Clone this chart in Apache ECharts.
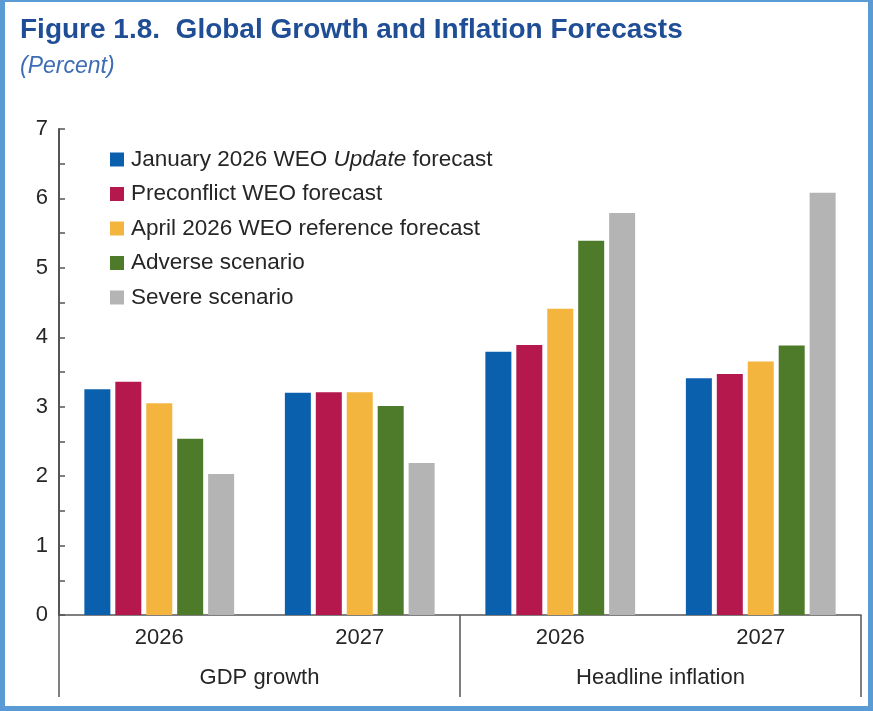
<!DOCTYPE html>
<html>
<head>
<meta charset="utf-8">
<script src="https://cdn.jsdelivr.net/npm/echarts@6/dist/echarts.min.js"></script>
<style>
  html, body { margin: 0; padding: 0; background: #ffffff; }
  #chart { width: 873px; height: 711px; }
</style>
</head>
<body>
<div id="chart"></div>
<script>
// Years shown under each bar cluster, and the two panel groups beneath them
const years = ['2026', '2027', '2026', '2027'];
const groups = ['GDP growth', 'Headline inflation'];

// Forecast series (percent), one value per cluster: GDP 2026, GDP 2027, inflation 2026, inflation 2027
const seriesNames = [
  'January 2026 WEO Update forecast',
  'Preconflict WEO forecast',
  'April 2026 WEO reference forecast',
  'Adverse scenario',
  'Severe scenario'
];
const januaryUpdate = [3.25, 3.20, 3.79, 3.41];
const preconflict   = [3.36, 3.21, 3.89, 3.47];
const aprilRef      = [3.05, 3.21, 4.41, 3.65];
const adverse       = [2.54, 3.01, 5.39, 3.88];
const severe        = [2.03, 2.19, 5.79, 6.08];

const seriesValues = [januaryUpdate, preconflict, aprilRef, adverse, severe];
const seriesColors = ['#0b60ae', '#b5184c', '#f4b53f', '#4e7b2a', '#b4b4b4'];

const yTicks = [0, 1, 2, 3, 4, 5, 6, 7];

const FONT = '"Liberation Sans", Arial, sans-serif';
const TEXT = '#262626';
const AXIS = '#555555';
const FRAME = '#5b9bd5';

const chart = echarts.init(document.getElementById('chart'), null, { renderer: 'canvas' });

const option = {
  backgroundColor: '#ffffff',
  animation: false,
  textStyle: { fontFamily: FONT },
  graphic: [
    // outer frame
    { type: 'rect', left: 0, top: 0, shape: { width: 5, height: 711 }, style: { fill: FRAME } },
    { type: 'rect', left: 0, top: 706, shape: { width: 873, height: 5 }, style: { fill: FRAME } },
    { type: 'rect', left: 868, top: 0, shape: { width: 5, height: 711 }, style: { fill: FRAME } },
    { type: 'rect', left: 0, top: 0, shape: { width: 873, height: 2 }, style: { fill: FRAME } },
    {
      type: 'text', left: 20, top: 16,
      style: { text: 'Figure 1.8.  Global Growth and Inflation Forecasts', font: 'bold 28px ' + FONT, fill: '#1f4e96' }
    },
    {
      type: 'text', left: 20, top: 55,
      style: { text: '(Percent)', font: 'italic 23px ' + FONT, fill: '#3d6db5' }
    }
  ],
  legend: {
    orient: 'vertical',
    left: 110,
    top: 148,
    padding: 0,
    itemWidth: 14,
    itemHeight: 14,
    itemGap: 11.5,
    icon: 'rect',
    data: seriesNames,
    formatter: function (name) {
      if (name.indexOf('Update') >= 0) {
        return '{n|January 2026 WEO }{i|Update}{n| forecast}';
      }
      return '{n|' + name + '}';
    },
    textStyle: {
      fontSize: 22.5,
      color: TEXT,
      lineHeight: 22,
      padding: [0, 0, 0, 2],
      rich: {
        n: { fontSize: 22.5, color: TEXT, fontFamily: FONT, lineHeight: 22 },
        i: { fontSize: 22.5, color: TEXT, fontFamily: FONT, fontStyle: 'italic', lineHeight: 22 }
      }
    }
  },
  grid: { left: 59, right: 12, top: 129, bottom: 96, containLabel: false },
  xAxis: [
    {
      type: 'category',
      data: years,
      position: 'bottom',
      axisLine: { show: true, lineStyle: { color: AXIS, width: 1.5 } },
      axisTick: { show: false },
      axisLabel: { fontSize: 22, color: TEXT, margin: 12, fontFamily: FONT }
    },
    {
      type: 'category',
      data: groups,
      position: 'bottom',
      axisLine: { show: false },
      axisTick: { show: true, interval: 0, length: 82, lineStyle: { color: AXIS, width: 1.5 } },
      axisLabel: { fontSize: 22, color: TEXT, margin: 52, fontFamily: FONT },
      splitLine: { show: false }
    }
  ],
  yAxis: {
    type: 'value',
    min: yTicks[0],
    max: yTicks[yTicks.length - 1],
    interval: 1,
    axisLine: { show: true, lineStyle: { color: AXIS, width: 2 } },
    axisTick: { show: true, inside: true, length: 6, lineStyle: { color: AXIS, width: 1.5 } },
    minorTick: { show: true, splitNumber: 2, length: 6, lineStyle: { color: AXIS, width: 1.5 } },
    axisLabel: { fontSize: 22, color: TEXT, margin: 11, fontFamily: FONT },
    splitLine: { show: false }
  },
  series: seriesNames.map(function (name, i) {
    return {
      name: name,
      type: 'bar',
      xAxisIndex: 0,
      data: seriesValues[i],
      barWidth: 26,
      barGap: '19%',
      itemStyle: { color: seriesColors[i] }
    };
  })
};

chart.setOption(option);
</script>
</body>
</html>
